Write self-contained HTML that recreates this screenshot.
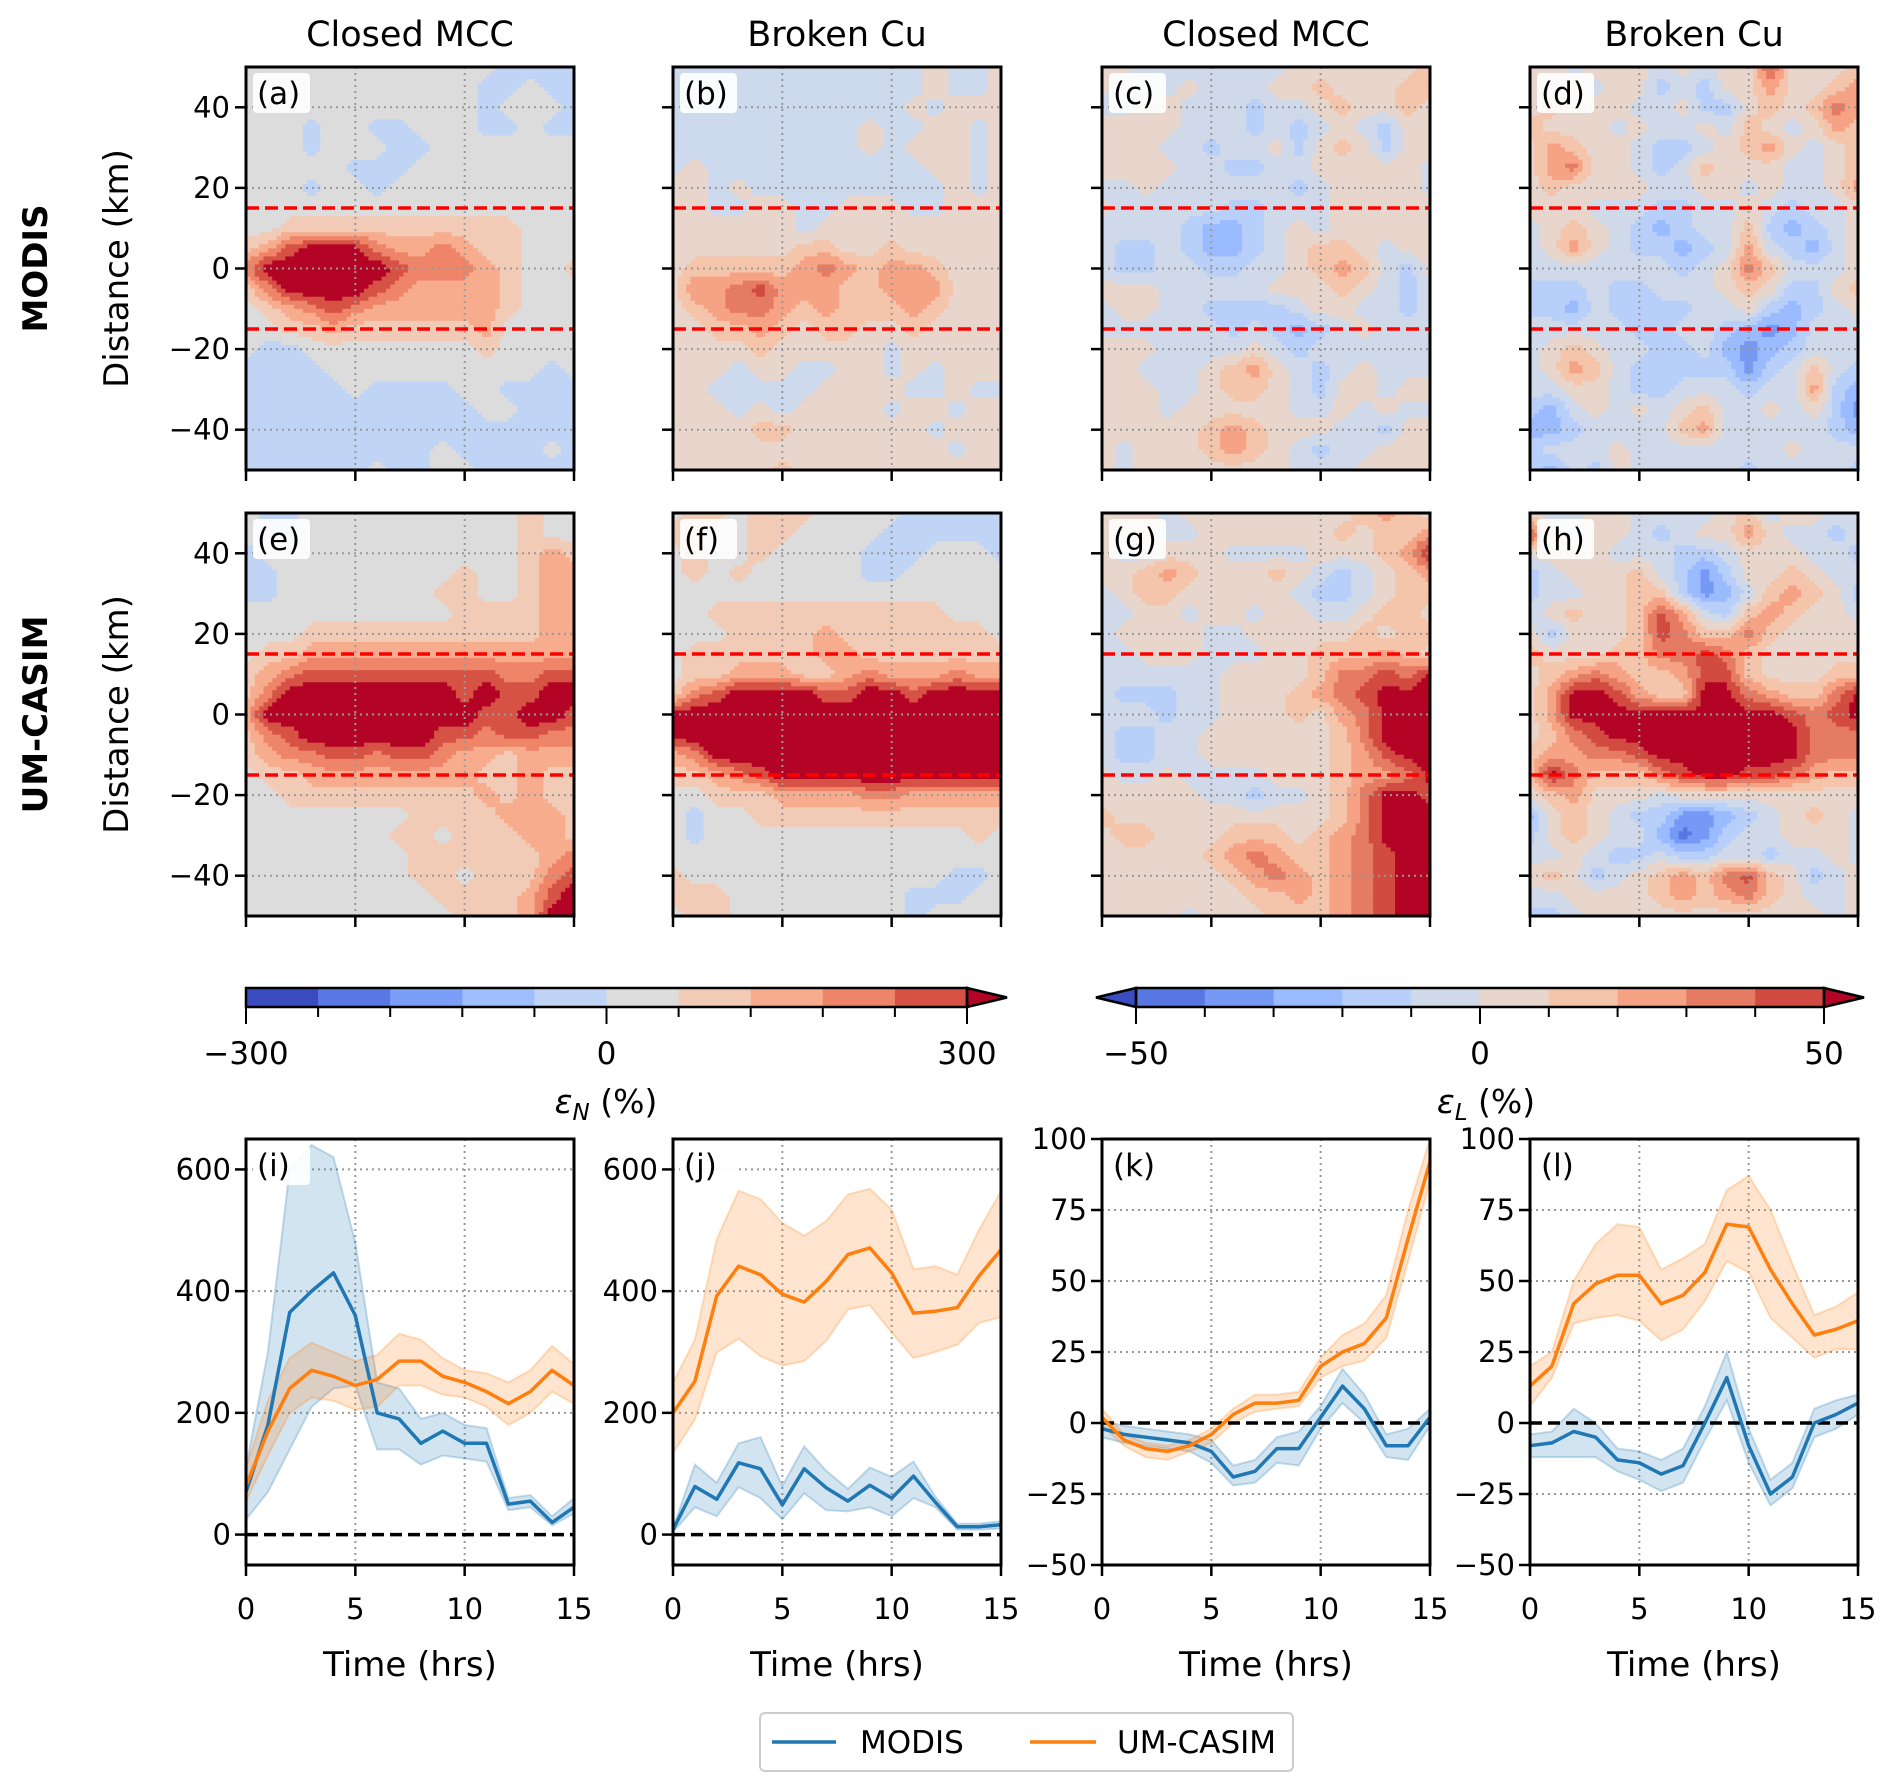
<!DOCTYPE html>
<html><head><meta charset="utf-8">
<style>
html,body{margin:0;padding:0;background:#fff;}
svg{display:block;font-family:"DejaVu Sans","Liberation Sans",sans-serif;}
</style></head>
<body>
<svg id="fig" width="1892" height="1784" viewBox="0 0 1892 1784" xmlns="http://www.w3.org/2000/svg"></svg>
<script>
// ---------- data ----------
const times = [0,1,2,3,4,5,6,7,8,9,10,11,12,13,14,15];
const distances = [50,45,40,35,30,25,20,15,10,5,0,-5,-10,-15,-20,-25,-30,-35,-40,-45,-50];

const heatA = [
[30,30,30,30,30,30,30,30,30,30,30,30,-30,-30,-30,-30],
[30,30,30,30,30,30,30,30,30,30,30,-30,-30,30,-30,-30],
[30,30,30,30,30,30,30,30,30,30,30,-30,30,30,30,-30],
[30,30,30,-30,30,30,-30,-30,30,30,30,-30,-30,30,-30,-30],
[30,30,30,-30,30,30,30,-30,-30,30,30,30,30,30,30,30],
[30,30,30,30,30,-30,-30,-30,30,30,30,30,30,30,30,30],
[30,30,30,-30,30,30,-30,30,30,30,30,30,30,30,30,30],
[30,30,30,30,30,30,30,30,30,30,30,30,30,30,30,30],
[30,30,90,90,90,90,90,90,90,90,90,90,90,30,30,30],
[90,150,270,330,330,330,210,150,150,210,150,90,90,30,30,30],
[210,350,350,350,350,350,350,270,210,210,210,150,90,30,30,90],
[90,210,350,350,350,350,270,210,150,150,150,150,90,30,30,30],
[30,90,150,210,270,210,150,150,150,150,150,150,90,30,30,30],
[30,30,90,90,150,90,90,90,90,90,90,150,30,30,30,30],
[30,-30,-30,30,30,30,30,30,30,30,30,90,30,30,30,30],
[-30,-30,-30,-30,30,30,30,30,30,30,30,30,30,30,-30,30],
[-30,-30,-30,-30,-30,30,-30,-30,-30,-30,30,30,-30,-30,-30,-30],
[-30,-30,-30,-30,-30,-30,-30,-30,-30,-30,-30,30,30,-30,-30,-30],
[-30,-30,-30,-30,-30,-30,-30,-30,-30,-30,-30,-30,-30,-30,-30,-30],
[-30,-30,-30,-30,-30,-30,-30,-30,-30,30,-30,-30,-30,-30,30,-30],
[-30,-30,-30,-30,-30,-30,30,-30,-30,30,30,-30,-30,-30,-30,-30]];
const heatB = [
[-30,-30,-30,-30,-30,-30,-30,-30,-30,-30,-30,-30,30,-30,-30,30],
[-30,-30,-30,-30,-30,-30,-30,-30,-30,-30,-30,-30,30,-30,-30,30],
[-30,-30,-30,-30,-30,-30,-30,-30,-30,-30,-30,30,-30,30,30,30],
[-30,-30,-30,-30,-30,-30,-30,-30,-30,30,-30,-30,30,30,-30,30],
[-30,-30,-30,-30,-30,-30,-30,-30,-30,30,-30,30,30,30,-30,30],
[-30,30,-30,-30,-30,-30,-30,-30,-30,-30,-30,-30,30,30,-30,30],
[30,30,-30,30,-30,-30,-30,-30,-30,-30,-30,-30,-30,30,-30,30],
[30,30,-30,-30,30,30,-30,-30,30,30,30,-30,-30,30,30,30],
[30,30,30,30,30,30,-30,30,30,30,30,30,30,30,30,30],
[30,30,30,30,30,30,90,90,30,30,90,30,30,30,30,30],
[30,90,90,90,90,90,150,210,150,90,150,150,90,30,30,30],
[30,180,150,210,270,150,150,150,90,90,150,150,150,30,30,30],
[30,90,150,210,210,150,90,150,90,90,90,150,90,30,30,30],
[30,30,90,90,150,90,30,90,90,30,30,90,30,30,30,30],
[30,30,30,30,90,30,30,30,30,30,-30,30,30,30,30,30],
[30,30,30,-30,30,30,-30,-30,30,30,-30,30,-30,30,30,30],
[30,30,-30,-30,-30,-30,-30,30,30,30,30,-30,-30,30,-30,-30],
[30,30,30,-30,30,-30,30,30,30,30,-30,30,30,-30,30,30],
[30,30,30,30,90,90,30,30,30,30,30,30,-30,30,30,30],
[30,30,30,30,30,30,30,30,30,30,30,30,30,-30,30,30],
[30,30,30,30,30,90,30,30,30,30,30,30,30,30,30,30]];
const heatC = [
[5,5,-5,-5,-5,-5,-5,-5,-5,5,5,5,5,5,5,15],
[5,-5,-5,-5,5,-5,-5,-5,5,5,15,5,5,5,15,15],
[-5,-5,5,5,-5,-5,-5,-15,-5,-5,5,15,5,5,15,5],
[5,5,5,5,-5,-5,-5,-15,-5,-15,-5,5,-5,-15,5,5],
[5,5,5,-5,-5,-15,-5,-5,5,-15,5,15,5,-15,5,5],
[5,5,5,5,-5,-5,-15,-15,-5,-5,5,5,5,5,5,-5],
[-5,-5,5,-5,-5,-5,-5,-5,-5,-15,-5,5,5,5,5,-5],
[5,-5,-5,-5,-5,-5,-15,-15,-5,-5,-5,5,5,5,5,5],
[-5,-5,-5,-5,-15,-25,-25,-15,-5,5,-5,5,5,5,5,5],
[-5,-15,-15,-5,-15,-25,-25,-15,-5,5,15,15,5,-5,5,5],
[-5,-15,-15,-5,-5,-15,-15,-5,-5,5,15,25,15,-5,-15,5],
[5,5,5,-5,-5,-5,-5,-5,5,5,5,15,5,-5,-15,-5],
[-5,5,5,-5,-5,-15,-15,-15,-15,-5,5,5,-5,-5,-15,-5],
[-5,-5,-5,-5,-5,-5,-15,-5,-15,-25,-15,-5,5,-5,-5,-5],
[5,5,5,-5,-5,-5,-5,5,-5,-15,-5,-5,-5,-5,-5,-5],
[5,5,-5,-5,-5,5,15,25,5,-5,-15,-5,5,-5,-5,-5],
[5,5,5,-5,-5,5,15,15,5,-5,-15,5,5,-5,5,5],
[5,5,5,-5,5,5,5,5,5,-5,-5,5,-5,5,-5,-5],
[5,5,5,5,5,15,25,15,5,5,5,-5,-5,-15,5,5],
[5,-5,5,5,5,15,25,15,5,-5,-15,-5,-5,5,5,5],
[5,-5,5,5,5,5,5,5,5,-5,-5,-5,5,5,5,5]];
const heatD = [
[5,5,-5,5,5,5,-5,5,-5,5,5,45,5,5,5,15],
[5,5,5,-5,5,5,-15,-5,-15,5,5,25,5,5,15,25],
[5,15,5,5,5,-5,-5,5,-15,-15,5,15,5,15,35,25],
[15,5,5,5,-5,5,-5,-5,5,-5,15,5,-5,5,25,15],
[5,25,15,5,5,-5,-15,-15,-5,5,15,25,5,-5,5,15],
[5,25,35,5,5,-5,-15,-5,15,5,5,5,-5,-5,5,15],
[5,15,5,5,5,5,-5,-5,5,5,-5,5,-5,-5,5,25],
[5,5,5,-5,-5,-5,-15,-15,-5,-5,5,-5,-15,-5,-5,5],
[-5,5,15,5,-5,-15,-25,-15,-5,-5,15,-15,-25,-15,-5,5],
[-5,5,25,5,-5,-15,-15,-25,-15,-5,25,-5,-15,-25,-5,5],
[-5,-5,-5,-5,-5,-5,-5,-15,-5,5,35,15,-5,-5,-5,5],
[-15,-15,-15,-5,-15,-15,-5,-5,-5,5,15,5,-15,-15,5,15],
[-15,-15,-25,-5,-15,-15,-15,-15,-5,-5,5,-15,-25,-15,-5,5],
[-5,-5,-5,-5,-5,-15,-15,-5,-5,-15,-25,-35,-25,-5,-5,-5],
[-5,5,15,5,-5,-5,-15,-15,-5,-25,-35,-25,-15,-5,-5,-5],
[-5,5,25,15,-5,-15,-15,-15,-15,-15,-35,-15,-5,15,-5,-15],
[-5,-5,5,5,-5,-15,-15,-5,-5,-5,-15,-5,-5,25,-15,-25],
[-15,-25,-5,5,-5,5,-5,5,15,-5,-5,5,-5,5,-15,-35],
[-25,-25,-15,-5,-5,-5,-5,15,25,-5,-5,-5,-5,-5,-15,-25],
[-15,-5,-5,-5,5,-5,-5,-5,-5,-5,-5,-5,5,-5,-5,-5],
[-15,-25,-5,-15,5,-5,-5,-5,-5,-5,-15,-5,-5,-5,-5,-15]];
const heatE = [
[30,-30,-30,30,30,30,30,30,30,30,30,30,30,90,30,30],
[30,-30,-30,30,30,30,30,30,30,30,30,30,30,90,30,30],
[-30,30,30,30,30,30,30,30,30,30,30,30,30,90,150,90],
[-30,-30,30,30,30,30,30,30,30,30,90,30,30,90,150,150],
[-30,-30,30,30,30,30,30,30,30,90,90,30,30,90,150,150],
[30,30,30,30,30,30,30,30,30,30,90,90,90,90,150,150],
[30,30,30,90,90,90,90,90,90,90,90,90,90,90,150,150],
[30,90,90,150,150,150,150,150,150,150,150,150,150,150,150,150],
[90,150,210,270,270,270,270,270,270,270,270,270,210,210,270,270],
[90,210,350,350,350,350,350,350,350,350,270,350,270,270,350,350],
[150,350,350,350,350,350,350,350,350,350,350,270,270,350,350,270],
[90,210,270,350,350,350,350,350,350,270,270,210,270,270,210,210],
[90,150,210,210,270,270,210,270,270,210,150,150,90,150,150,150],
[30,90,90,150,150,150,150,150,150,150,150,90,90,150,90,90],
[30,30,90,90,90,90,90,90,90,90,90,150,90,150,90,90],
[30,30,30,30,30,30,30,30,90,90,90,90,150,150,150,90],
[30,30,30,30,30,30,30,90,90,30,90,90,90,150,150,90],
[30,30,30,30,30,30,30,30,90,90,90,90,90,90,150,210],
[30,30,30,30,30,30,30,30,90,90,30,90,90,90,210,270],
[30,30,30,30,30,30,30,30,30,90,90,90,90,150,270,350],
[30,30,30,30,30,30,30,30,30,30,90,90,90,150,350,350]];
const heatF = [
[30,90,90,30,90,90,90,30,30,30,30,-30,-30,-30,-30,-30],
[90,90,30,30,90,90,30,30,30,30,-30,-30,-30,-30,-30,-30],
[30,90,30,30,90,30,30,30,30,-30,-30,-30,30,30,30,-30],
[30,90,30,90,30,30,30,30,30,-30,-30,30,30,30,30,30],
[30,30,30,30,30,30,30,30,30,30,30,30,30,30,30,30],
[30,30,90,90,90,90,90,90,90,90,90,90,90,30,30,30],
[30,30,30,90,90,90,90,150,90,90,90,90,90,90,90,30],
[30,90,90,90,90,90,90,150,150,90,90,90,90,90,90,90],
[30,90,90,150,150,150,90,90,150,210,150,150,150,210,150,150],
[90,210,270,350,350,350,350,270,270,350,350,270,350,350,350,350],
[350,350,350,350,350,350,350,350,350,350,350,350,350,350,350,350],
[350,350,350,350,350,350,350,350,350,350,350,350,350,350,350,350],
[150,210,350,350,350,350,350,350,350,350,350,350,350,350,350,350],
[90,90,150,210,270,350,350,350,350,350,350,350,350,350,350,350],
[30,30,90,90,90,150,150,150,150,210,210,150,150,150,150,150],
[30,-30,30,30,90,90,90,90,90,90,90,90,90,90,90,90],
[30,-30,30,30,30,30,30,30,30,30,30,30,30,30,90,30],
[30,30,30,30,30,30,30,30,30,30,30,30,30,30,30,30],
[90,30,30,30,30,30,30,30,30,30,30,30,30,-30,-30,30],
[90,90,90,30,30,30,30,30,30,30,30,-30,-30,-30,30,30],
[30,90,90,30,30,30,30,30,30,30,30,-30,30,30,30,30]];
const heatG = [
[5,5,5,-5,5,5,5,5,5,5,5,5,15,25,15,5],
[5,5,5,-5,-5,5,5,5,5,5,5,15,5,15,15,25],
[5,-5,-5,5,5,5,-5,-5,-5,-5,5,5,5,15,25,55],
[5,5,15,25,15,5,5,5,15,5,-5,-15,-5,5,15,25],
[-5,5,15,15,5,5,5,5,5,-5,-15,-15,-5,5,15,15],
[-5,-5,5,5,-5,5,5,-5,5,5,-5,-5,5,15,15,5],
[-5,5,5,5,5,-5,-5,5,5,5,5,5,15,5,15,15],
[-5,-5,5,5,5,-5,-5,-5,5,5,15,15,15,25,15,5],
[-5,-5,-5,-5,-5,-5,5,5,5,5,15,35,35,45,35,55],
[-5,-15,-15,-15,-5,-5,5,5,5,15,25,35,45,55,55,55],
[-5,-5,-5,-15,-5,-5,5,5,5,15,5,25,35,55,55,55],
[-5,-15,-15,-5,-5,5,5,5,5,5,5,15,35,55,55,55],
[-5,-15,-15,-5,-5,5,5,5,5,5,5,15,25,45,55,55],
[5,-5,-5,5,-5,-5,-5,-5,5,5,5,15,25,25,35,55],
[5,5,5,5,5,-5,-5,-15,-5,-5,5,15,35,55,55,45],
[15,5,5,5,5,5,5,5,5,5,5,15,35,55,55,55],
[5,15,15,5,5,5,15,15,15,5,15,25,35,55,55,55],
[5,5,5,5,5,15,25,35,25,15,15,25,35,45,55,55],
[5,5,5,5,5,5,15,25,35,25,15,25,35,45,55,55],
[5,5,5,5,5,5,5,15,15,25,15,25,35,45,55,55],
[5,5,5,5,-5,5,5,5,15,15,15,25,35,45,55,55]];
const heatH = [
[5,-5,-5,5,5,-5,-5,-5,-5,5,15,-5,5,5,-5,-5],
[45,5,-5,5,5,-5,-15,-5,5,5,25,5,-5,-5,-15,-5],
[5,5,5,5,-5,-5,-5,-15,-15,-5,5,5,5,-5,-5,-15],
[-15,-5,5,5,5,15,-5,-15,-35,-15,5,5,15,5,-5,-5],
[-15,-5,-5,5,5,15,15,-15,-35,-25,-5,15,25,15,5,-15],
[-5,5,15,5,5,15,45,25,-5,-15,15,25,15,5,5,-5],
[5,-15,5,5,5,15,45,35,15,15,35,15,5,5,5,5],
[15,5,5,5,15,15,35,35,45,35,15,5,5,5,5,5],
[5,15,25,35,25,15,15,25,45,45,15,5,5,5,15,15],
[5,25,55,55,45,25,15,15,55,55,35,25,15,15,35,55],
[5,25,55,55,55,55,55,55,55,55,55,55,45,35,45,55],
[5,15,35,45,55,55,55,55,55,55,55,55,55,35,35,35],
[15,25,25,35,35,45,55,55,55,55,55,55,55,35,35,35],
[15,55,35,15,15,15,35,45,55,55,45,45,35,25,15,15],
[5,15,25,5,5,5,-5,5,5,5,5,5,5,5,5,5],
[-25,5,15,5,-5,-15,-15,-35,-35,-25,-15,-5,5,15,5,-5],
[-15,5,15,5,-5,-5,-25,-45,-35,-15,-5,-5,5,5,5,-5],
[-5,-5,5,-5,-15,-15,-5,-15,-15,-5,-5,-15,-5,-5,5,-5],
[5,15,5,-15,-5,5,15,25,15,35,45,15,5,-15,-5,5],
[-5,-5,5,5,5,5,15,25,15,25,35,15,5,-5,-5,5],
[-15,-15,-5,5,5,5,5,5,5,5,5,5,5,5,-5,5]];

// line-chart series (t = 0..15)
const modisI = [70,180,365,400,430,360,200,190,150,170,150,150,50,55,20,45];
const modisIHi = [110,300,600,640,620,480,250,240,190,200,180,175,60,65,30,60];
const modisILo = [25,70,140,210,240,245,140,140,115,130,125,120,40,45,15,35];
const umI = [80,170,240,270,260,245,255,285,285,260,250,235,215,235,270,245];
const umIHi = [110,220,290,315,300,285,295,330,320,290,270,265,250,270,310,280];
const umILo = [55,130,200,225,220,205,210,245,245,230,225,210,180,200,235,215];

const modisJ = [8,79,58,118,108,49,108,77,55,81,60,96,53,13,13,16];
const modisJHi = [10,115,85,150,160,80,145,105,75,110,95,120,62,18,18,22];
const modisJLo = [4,45,30,78,60,25,68,40,38,45,30,60,45,8,8,10];
const umJ = [200,252,392,441,427,395,382,416,460,471,430,364,367,373,425,468];
const umJHi = [250,320,485,565,551,512,491,515,559,568,534,436,441,427,501,564];
const umJLo = [134,189,299,322,293,278,285,318,370,377,332,290,300,312,348,357];

const modisK = [-2,-4,-5,-6,-7,-10,-19,-17,-9,-9,2,13,5,-8,-8,2];
const modisKHi = [1,-1,-2,-3,-4,-6,-15,-13,-5,-3,6,19,10,-4,-2,5];
const modisKLo = [-5,-7,-8,-9,-10,-14,-22,-21,-14,-15,-2,7,0,-12,-13,-1];
const umK = [2,-6,-9,-10,-8,-4,3,7,7,8,20,25,28,37,65,92];
const umKHi = [5,-4,-7,-8,-6,-2,5,10,10,11,23,31,35,45,75,100];
const umKLo = [-1,-8,-12,-13,-10,-7,0,4,5,6,16,20,22,30,57,85];

const modisL = [-8,-7,-3,-5,-13,-14,-18,-15,0,16,-8,-25,-19,0,3,7];
const modisLHi = [-4,-3,5,0,-9,-10,-13,-9,6,25,-2,-20,-14,5,8,10];
const modisLLo = [-12,-12,-12,-12,-17,-20,-24,-21,-6,8,-14,-29,-23,-5,-2,3];
const umL = [13,20,42,49,52,52,42,45,53,70,69,54,42,31,33,36];
const umLHi = [20,25,50,63,70,69,54,58,63,82,87,75,56,38,41,46];
const umLLo = [6,16,35,37,38,36,29,33,43,57,53,37,30,23,26,26];

const tickN = [0,200,400,600];
const tickL = [-50,-25,0,25,50,75,100];
const tickT = [0,5,10,15];
const tickD = [-40,-20,0,20,40];
const cbTicksN = [-300,-240,-180,-120,-60,0,60,120,180,240,300];
const cbLabelsN = [-300,0,300];
const cbTicksL = [-50,-40,-30,-20,-10,0,10,20,30,40,50];
const cbLabelsL = [-50,0,50];

// ---------- helpers ----------
const NS = "http://www.w3.org/2000/svg";
const fig = document.getElementById('fig');
function el(tag, attrs, parent){
  const e = document.createElementNS(NS, tag);
  for (const k in attrs) e.setAttribute(k, attrs[k]);
  (parent||fig).appendChild(e);
  return e;
}
function txt(s, x, y, size, anchor, parent, extra){
  const t = el('text', Object.assign({x:x, y:y, 'font-size':size, 'text-anchor':anchor||'middle', fill:'#000'}, extra||{}), parent);
  t.textContent = s;
  return t;
}
function minus(v){ return v<0 ? '\u2212'+Math.abs(v) : String(v); }

function palN(v){ if(v<-240)return'#3b4cc0'; if(v<-180)return'#5a78e4'; if(v<-120)return'#7b9ff9'; if(v<-60)return'#9ebeff'; if(v<0)return'#c0d4f5'; if(v<60)return'#dddcdc'; if(v<120)return'#f2cbb7'; if(v<180)return'#f7ac8e'; if(v<240)return'#ee8468'; if(v<300)return'#d65244'; return'#b40426'; }
function palB(v){ if(v<0)return'#cdd9ec'; if(v<60)return'#e8d6cc'; if(v<120)return'#f4c4ab'; if(v<180)return'#f6a385'; if(v<240)return'#e57b62'; if(v<300)return'#d24b40'; return'#b40426'; }
function palL(v){ if(v<-50)return'#3b4cc0'; if(v<-40)return'#5977e3'; if(v<-30)return'#7699f6'; if(v<-20)return'#9abbff'; if(v<-10)return'#b8d0f9'; if(v<0)return'#cfd9ea'; if(v<10)return'#e8d6cc'; if(v<20)return'#f4c4ab'; if(v<30)return'#f6a385'; if(v<40)return'#e57b62'; if(v<50)return'#d24b40'; return'#b40426'; }

const PX = [246,673,1102,1530], PW = 328;
const HY = [67,513], HH = 403;
const BY = 1139, BH = 426;
const TICKFS = 29;

function heatPanel(grid, col, row, pal, label, name){
  const x0 = PX[col], y0 = HY[row];
  const g = el('g', {}, fig);
  
  
  const tMin = times[0], tMax = times[times.length-1];
  const dMax = distances[0], dMin = distances[distances.length-1];
  const xs = t => x0 + (t - tMin)/(tMax - tMin)*PW;
  const ys = d => y0 + (dMax - d)/(dMax - dMin)*HH;
  const nC = times.length, nR = distances.length, sub = 5;
  const fC = (nC-1)*sub, fR = (nR-1)*sub;
  const cw = PW/fC, ch = HH/fR;
  for (let j=0;j<fR;j++){
    const fy = (j+0.5)/sub, r0 = Math.floor(fy), ry = fy - r0;
    let runStart = 0, runCol = null;
    for (let i=0;i<=fC;i++){
      let c = null;
      if (i<fC){
        const fx = (i+0.5)/sub, c0 = Math.floor(fx), rx = fx - c0;
        const v = (grid[r0][c0]*(1-rx)+grid[r0][c0+1]*rx)*(1-ry) + (grid[r0+1][c0]*(1-rx)+grid[r0+1][c0+1]*rx)*ry;
        c = pal(v);
      }
      if (c !== runCol){
        if (runCol !== null){
          const r = el('rect', {x:(x0+runStart*cw).toFixed(2), y:(y0+j*ch).toFixed(2), width:((i-runStart)*cw+0.6).toFixed(2), height:(ch+0.6).toFixed(2), fill:runCol}, g);
          
          
        }
        runStart = i; runCol = c;
      }
    }
  }
  tickT.slice(1,-1).forEach(t=>{
    el('line', {x1:xs(t), x2:xs(t), y1:y0, y2:y0+HH, stroke:'#999', 'stroke-width':2, 'stroke-dasharray':'2,4'}, g);
  });
  tickD.forEach(d=>{
    el('line', {x1:x0, x2:x0+PW, y1:ys(d), y2:ys(d), stroke:'#999', 'stroke-width':2, 'stroke-dasharray':'2,4'}, g);
  });
  [15,-15].forEach(d=>{
    const l = el('line', {x1:x0, x2:x0+PW, y1:ys(d), y2:ys(d), stroke:'#ff0000', 'stroke-width':3.5, 'stroke-dasharray':'13,6'}, g);
    
    
  });
  el('rect', {x:x0, y:y0, width:PW, height:HH, fill:'none', stroke:'#000', 'stroke-width':3}, g);
  tickD.forEach(d=>{
    el('line', {x1:x0-11, x2:x0, y1:ys(d), y2:ys(d), stroke:'#000', 'stroke-width':2.5}, g);
    if (col===0) txt(minus(d), x0-16, ys(d)+10, TICKFS, 'end', g);
  });
  tickT.forEach(t=>{
    el('line', {x1:xs(t), x2:xs(t), y1:y0+HH, y2:y0+HH+11, stroke:'#000', 'stroke-width':2.5}, g);
  });
  el('rect', {x:x0+7, y:y0+6, width:label.length*17+6, height:40, rx:4, fill:'#fff', opacity:0.9}, g);
  const lt = txt(label, x0+11, y0+37, 31, 'start', g);
  
  
}

function linePanel(col, yMin, yMax, yTicks, series, label, name){
  const x0 = PX[col], y0 = BY;
  const g = el('g', {}, fig);
  
  
  const xs = t => x0 + (t - times[0])/(times[times.length-1]-times[0])*PW;
  const ys = v => y0 + (yMax - v)/(yMax - yMin)*BH;
  tickT.slice(1,-1).forEach(t=> el('line', {x1:xs(t), x2:xs(t), y1:y0, y2:y0+BH, stroke:'#999', 'stroke-width':2, 'stroke-dasharray':'2,4'}, g));
  yTicks.filter(v=>v!==0 && v>yMin && v<yMax).forEach(v=> el('line', {x1:x0, x2:x0+PW, y1:ys(v), y2:ys(v), stroke:'#999', 'stroke-width':2, 'stroke-dasharray':'2,4'}, g));
  series.forEach(s=>{
    let d = '';
    s.hi.forEach((v,i)=>{ d += (i?'L':'M') + xs(times[i]).toFixed(1) + ',' + ys(v).toFixed(1); });
    for (let i=s.lo.length-1;i>=0;i--) d += 'L' + xs(times[i]).toFixed(1) + ',' + ys(s.lo[i]).toFixed(1);
    d += 'Z';
    const band = el('path', {d:d, fill:s.color, 'fill-opacity':0.2, stroke:s.color, 'stroke-opacity':0.25, 'stroke-width':2}, g);
    
    
  });
  el('line', {x1:x0, x2:x0+PW, y1:ys(0), y2:ys(0), stroke:'#000', 'stroke-width':3.5, 'stroke-dasharray':'12,6'}, g);
  series.forEach(s=>{
    const pts = s.mid.map((v,i)=> xs(times[i]).toFixed(1)+','+ys(v).toFixed(1)).join(' ');
    const pl = el('polyline', {points:pts, fill:'none', stroke:s.color, 'stroke-width':3.5, 'stroke-linejoin':'round'}, g);
    
    
  });
  el('rect', {x:x0, y:y0, width:PW, height:BH, fill:'none', stroke:'#000', 'stroke-width':3}, g);
  yTicks.forEach(v=>{
    el('line', {x1:x0-11, x2:x0, y1:ys(v), y2:ys(v), stroke:'#000', 'stroke-width':2.5}, g);
    txt(minus(v), x0-15, ys(v)+10, TICKFS, 'end', g);
  });
  tickT.forEach(t=>{
    el('line', {x1:xs(t), x2:xs(t), y1:y0+BH, y2:y0+BH+11, stroke:'#000', 'stroke-width':2.5}, g);
    txt(String(t), xs(t), y0+BH+54, TICKFS, 'middle', g);
  });
  const xl = txt('Time (hrs)', x0+PW/2, 1676, 34, 'middle', g);
  
  
  el('rect', {x:x0+7, y:y0+6, width:label.length*17+6, height:40, rx:4, fill:'#fff', opacity:0.9}, g);
  txt(label, x0+11, y0+37, 31, 'start', g);
}

// ---------- titles ----------
['Closed MCC','Broken Cu','Closed MCC','Broken Cu'].forEach((s,i)=>{
  const t = txt(s, PX[i]+PW/2, 46, 35, 'middle');
  
  
});
[['MODIS',HY[0]],['UM-CASIM',HY[1]]].forEach(([s,y])=>{
  const t = txt(s, 0, 0, 34, 'middle', fig, {'font-weight':'bold', transform:'translate(47,'+(y+HH/2)+') rotate(-90)'});
  
  
  const d = txt('Distance (km)', 0, 0, 34, 'middle', fig, {transform:'translate(128,'+(y+HH/2)+') rotate(-90)'});
  
  
});

heatPanel(heatA,0,0,palN,'(a)','heatmap-a');
heatPanel(heatB,1,0,palB,'(b)','heatmap-b');
heatPanel(heatC,2,0,palL,'(c)','heatmap-c');
heatPanel(heatD,3,0,palL,'(d)','heatmap-d');
heatPanel(heatE,0,1,palN,'(e)','heatmap-e');
heatPanel(heatF,1,1,palN,'(f)','heatmap-f');
heatPanel(heatG,2,1,palL,'(g)','heatmap-g');
heatPanel(heatH,3,1,palL,'(h)','heatmap-h');

// ---------- colorbars ----------
function colorbar(x0, x1, lo, hi, ticks, labels, pal, leftArrow, title, tx, name){
  const g = el('g', {}, fig);
  
  
  const y0 = 988, h = 19;
  const xs = v => x0 + (v-lo)/(hi-lo)*(x1-x0);
  for (let i=0;i<ticks.length-1;i++){
    const r = el('rect', {x:xs(ticks[i]), y:y0, width:xs(ticks[i+1])-xs(ticks[i])+0.5, height:h, fill:pal((ticks[i]+ticks[i+1])/2)}, g);
    
    
  }
  el('polygon', {points:`${x1},${y0} ${x1+40},${y0+h/2} ${x1},${y0+h}`, fill:pal(hi+1), stroke:'#000', 'stroke-width':2.5}, g);
  if (leftArrow) el('polygon', {points:`${x0},${y0} ${x0-40},${y0+h/2} ${x0},${y0+h}`, fill:pal(lo-1), stroke:'#000', 'stroke-width':2.5}, g);
  el('rect', {x:x0, y:y0, width:x1-x0, height:h, fill:'none', stroke:'#000', 'stroke-width':2.5}, g);
  ticks.forEach(v=>{
    const major = labels.indexOf(v)>=0;
    el('line', {x1:xs(v), x2:xs(v), y1:y0+h, y2:y0+h+(major?17:10), stroke:'#000', 'stroke-width':2}, g);
  });
  labels.forEach(v=> txt(minus(v), xs(v), 1064, 31, 'middle', g));
  const t = el('text', {x:tx, y:1113, 'font-size':33, 'text-anchor':'middle'}, g);
  t.innerHTML = '<tspan font-style="italic">ε</tspan><tspan font-style="italic" font-size="23" dy="7">'+title+'</tspan><tspan dy="-7"> (%)</tspan>';
  
  
}
colorbar(246, 967, -300, 300, cbTicksN, cbLabelsN, palN, false, 'N', 606, 'colorbar-eps-n');
colorbar(1136, 1824, -50, 50, cbTicksL, cbLabelsL, palL, true, 'L', 1486, 'colorbar-eps-l');

// ---------- line panels ----------
const BLUE = '#1f77b4', ORANGE = '#ff7f0e';
linePanel(0, -50, 650, tickN, [
  {name:'modis', color:BLUE, mid:modisI, hi:modisIHi, lo:modisILo},
  {name:'um-casim', color:ORANGE, mid:umI, hi:umIHi, lo:umILo}], '(i)', 'timeseries-i');
linePanel(1, -50, 650, tickN, [
  {name:'modis', color:BLUE, mid:modisJ, hi:modisJHi, lo:modisJLo},
  {name:'um-casim', color:ORANGE, mid:umJ, hi:umJHi, lo:umJLo}], '(j)', 'timeseries-j');
linePanel(2, -50, 100, tickL, [
  {name:'modis', color:BLUE, mid:modisK, hi:modisKHi, lo:modisKLo},
  {name:'um-casim', color:ORANGE, mid:umK, hi:umKHi, lo:umKLo}], '(k)', 'timeseries-k');
linePanel(3, -50, 100, tickL, [
  {name:'modis', color:BLUE, mid:modisL, hi:modisLHi, lo:modisLLo},
  {name:'um-casim', color:ORANGE, mid:umL, hi:umLHi, lo:umLLo}], '(l)', 'timeseries-l');

// ---------- legend ----------
const lg = el('g', {}, fig);


el('rect', {x:760, y:1713, width:533, height:58, rx:5, fill:'#fff', stroke:'#cccccc', 'stroke-width':2}, lg);
el('line', {x1:772, x2:836, y1:1742, y2:1742, stroke:BLUE, 'stroke-width':3.5}, lg);
const le1 = txt('MODIS', 860, 1753, 31, 'start', lg);


el('line', {x1:1030, x2:1096, y1:1742, y2:1742, stroke:ORANGE, 'stroke-width':3.5}, lg);
const le2 = txt('UM-CASIM', 1117, 1753, 31, 'start', lg);


</script>
</body></html>
